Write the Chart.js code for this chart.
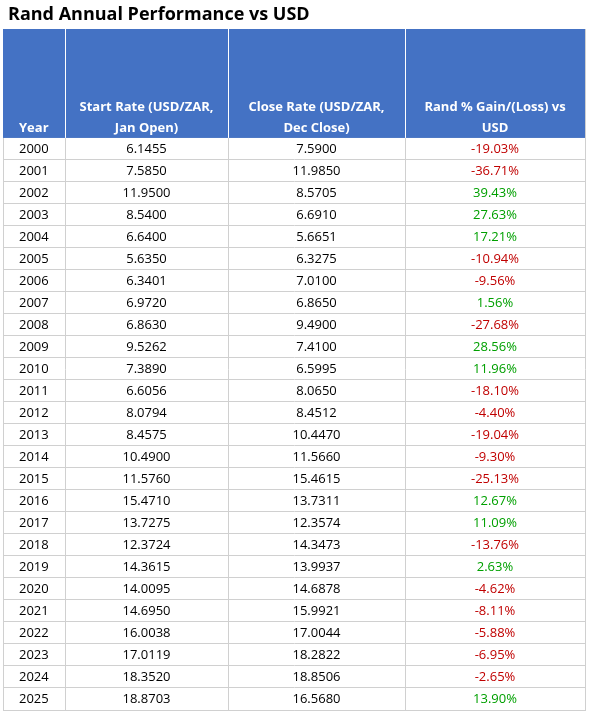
<!DOCTYPE html>
<html>
<head>
<meta charset="utf-8">
<script src="https://cdn.jsdelivr.net/npm/chart.js@4"></script>
<style>
  body { margin: 0; background: #fff; }
  #wrap { width: 589px; height: 714px; }
</style>
</head>
<body>
<div id="wrap"><canvas id="tbl"></canvas></div>
<script>
const title = 'Rand Annual Performance vs USD';
const headers = [['Year'], ['Start Rate (USD/ZAR,', 'Jan Open)'], ['Close Rate (USD/ZAR,', 'Dec Close)'], ['Rand % Gain/(Loss) vs', 'USD']];
const years = [2000, 2001, 2002, 2003, 2004, 2005, 2006, 2007, 2008, 2009, 2010, 2011, 2012,
  2013, 2014, 2015, 2016, 2017, 2018, 2019, 2020, 2021, 2022, 2023, 2024, 2025];
const startRates = ['6.1455', '7.5850', '11.9500', '8.5400', '6.6400', '5.6350', '6.3401', '6.9720', '6.8630',
  '9.5262', '7.3890', '6.6056', '8.0794', '8.4575', '10.4900', '11.5760', '15.4710', '13.7275', '12.3724',
  '14.3615', '14.0095', '14.6950', '16.0038', '17.0119', '18.3520', '18.8703'];
const closeRates = ['7.5900', '11.9850', '8.5705', '6.6910', '5.6651', '6.3275', '7.0100', '6.8650', '9.4900',
  '7.4100', '6.5995', '8.0650', '8.4512', '10.4470', '11.5660', '15.4615', '13.7311', '12.3574', '14.3473',
  '13.9937', '14.6878', '15.9921', '17.0044', '18.2822', '18.8506', '16.5680'];
const pctChange = [-19.03, -36.71, 39.43, 27.63, 17.21, -10.94, -9.56, 1.56, -27.68, 28.56, 11.96, -18.10,
  -4.40, -19.04, -9.30, -25.13, 12.67, 11.09, -13.76, 2.63, -4.62, -8.11, -5.88, -6.95, -2.65, 13.90];
const colEdges = [0, 62, 225, 402, 582];
const headerRows = 4.95;

const font = '"Open Sans", "Liberation Sans", sans-serif';

const tablePlugin = {
  id: 'tablePlugin',
  beforeDatasetsDraw(chart) {
    const { ctx, scales: { x, y } } = chart;
    const top = y.getPixelForValue(-headerRows), bot = y.getPixelForValue(0);
    ctx.save();
    ctx.fillStyle = '#4472C4';
    ctx.fillRect(x.getPixelForValue(0), top, x.getPixelForValue(582) - x.getPixelForValue(0), bot - top);
    ctx.strokeStyle = '#ffffff';
    ctx.lineWidth = 1;
    colEdges.slice(1, -1).forEach(v => {
      const px = Math.round(x.getPixelForValue(v)) + 0.5;
      ctx.beginPath(); ctx.moveTo(px, top); ctx.lineTo(px, bot); ctx.stroke();
    });
    ctx.restore();
  },
  afterDraw(chart) {
    const { ctx, scales: { x, y } } = chart;
    ctx.save();
    ctx.fillStyle = '#000';
    ctx.font = 'bold 18px ' + font;
    ctx.textBaseline = 'middle';
    ctx.textAlign = 'left';
    ctx.fillText(title, 8, 15);

    // header
    ctx.font = 'bold 13px ' + font;
    ctx.fillStyle = '#ffffff';
    ctx.textBaseline = 'alphabetic';
    const hb = y.getPixelForValue(0) - 6;
    headers.forEach((lines, c) => {
      const cx = (x.getPixelForValue(colEdges[c]) + x.getPixelForValue(colEdges[c + 1])) / 2;
      lines.forEach((ln, i) => {
        const py = hb - (lines.length - 1 - i) * 21;
        if (c === 0) { ctx.textAlign = 'left'; ctx.fillText(ln, x.getPixelForValue(0) + 16, py); }
        else { ctx.textAlign = 'center'; ctx.fillText(ln, cx, py); }
      });
    });

    // body
    ctx.font = '13px ' + font;
    ctx.textBaseline = 'middle';
    years.forEach((yr, r) => {
      const py = y.getPixelForValue(r + 0.5);
      const cells = [String(yr), startRates[r], closeRates[r], pctChange[r].toFixed(2) + '%'];
      cells.forEach((txt, c) => {
        if (c === 0) {
          ctx.textAlign = 'left'; ctx.fillStyle = '#000';
          ctx.fillText(txt, x.getPixelForValue(0) + 16, py);
        } else {
          ctx.textAlign = 'center';
          ctx.fillStyle = c === 3 ? (pctChange[r] < 0 ? '#C00000' : '#00A000') : '#000';
          ctx.fillText(txt, (x.getPixelForValue(colEdges[c]) + x.getPixelForValue(colEdges[c + 1])) / 2, py);
        }
      });
    });
    ctx.restore();
  }
};

new Chart(document.getElementById('tbl'), {
  type: 'scatter',
  data: { datasets: [{ data: [] }] },
  options: {
    responsive: true,
    maintainAspectRatio: false,
    animation: false,
    layout: { padding: { left: 3, right: 4, top: 29, bottom: 4 } },
    plugins: { legend: { display: false }, tooltip: { enabled: false } },
    scales: {
      x: {
        type: 'linear', min: 0, max: 582,
        afterBuildTicks: s => { s.ticks = colEdges.map(v => ({ value: v })); },
        ticks: { display: false },
        grid: { color: '#d0d0d0', drawTicks: false },
        border: { color: '#d0d0d0' }
      },
      y: {
        type: 'linear', min: -headerRows, max: years.length, reverse: true,
        afterBuildTicks: s => { s.ticks = years.map((_, i) => ({ value: i })).concat([{ value: years.length }]); },
        ticks: { display: false },
        grid: { color: '#d0d0d0', drawTicks: false },
        border: { color: '#d0d0d0' }
      }
    }
  },
  plugins: [tablePlugin]
});
</script>
</body>
</html>
